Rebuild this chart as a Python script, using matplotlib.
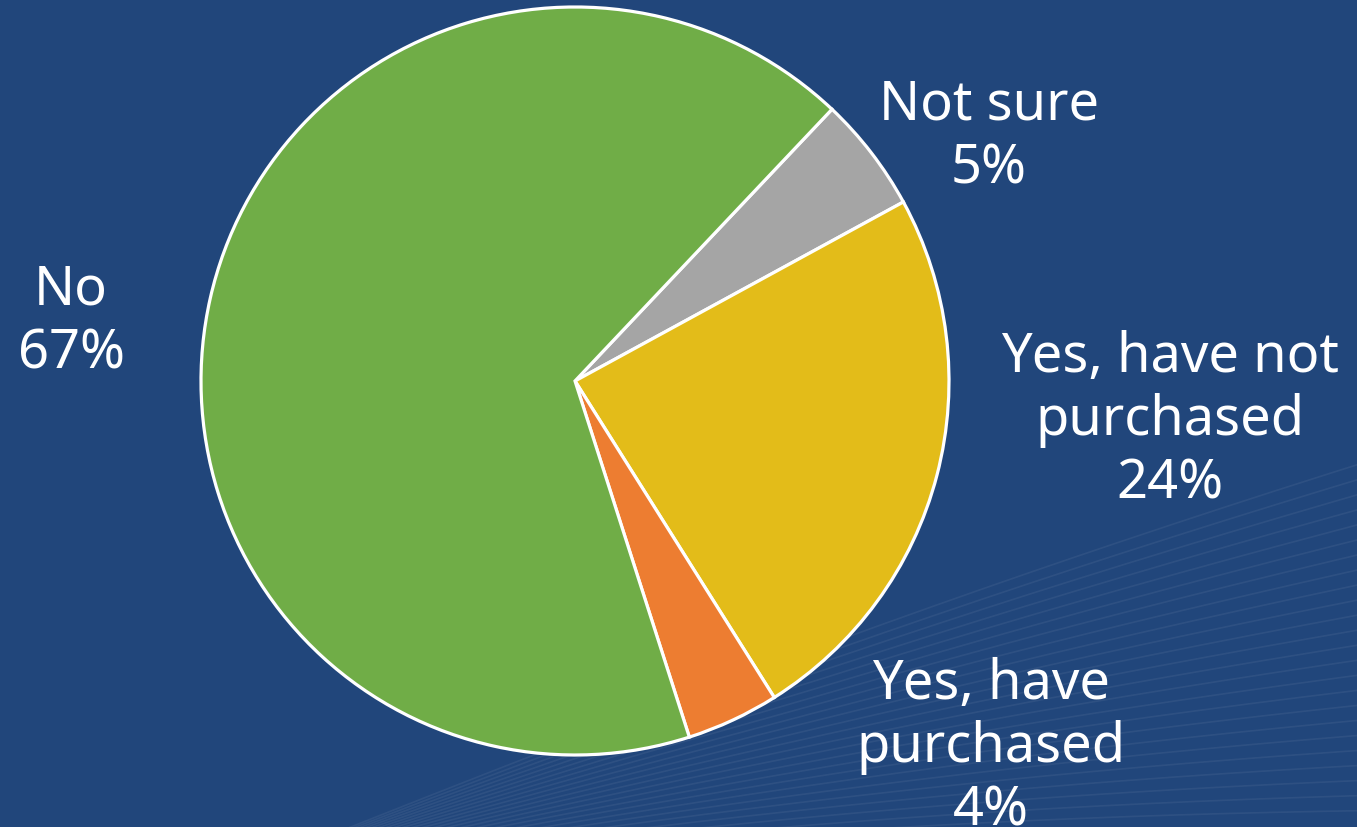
import matplotlib.pyplot as plt
import numpy as np

# Survey answers, clockwise from the top right
labels = ['Not sure', 'Yes, have not\npurchased', 'Yes, have\npurchased', 'No']
values = [5, 24, 4, 67]
colors = ['#A5A5A5', '#E3BC19', '#ED7D31', '#70AD47']

# where each label block sits (centre of text, in pixel units)
label_xy = [(989, 691), (1170, 407), (991, 80), (71, 506)]

bg = '#21467B'
W, H = 1357, 828

fig = plt.figure(figsize=(W / 100, H / 100), dpi=100, facecolor=bg)
ax = fig.add_axes([0, 0, 1, 1])
ax.set_facecolor(bg)
ax.set_xlim(0, W)
ax.set_ylim(0, H)
ax.set_aspect('equal')
ax.axis('off')

# faint swoosh lines fanning out from the bottom
xs = np.linspace(200, W + 20, 300)
for k in range(24):
    slope = 0.05 + 0.013 * k
    ys = -60 + (xs - 200) * slope + 25 * np.sin((xs - 200) / 500)
    ax.plot(xs, ys, color='white', alpha=0.06, lw=1.2, zorder=0)

wedges, _ = ax.pie(values, colors=colors, startangle=46.6, counterclock=False,
                   center=(575, H - 382), radius=374,
                   wedgeprops=dict(edgecolor='white', linewidth=2.3))
for w in wedges:
    w.set_zorder(2)

for lab, val, (x, y) in zip(labels, values, label_xy):
    ax.text(x, y, f'{lab}\n{val}%', ha='center', va='center', color='white',
            fontsize=39, family='Noto Sans', linespacing=1.2, zorder=3)

ax.set_xlim(0, W)
ax.set_ylim(0, H)

fig.savefig('out.png', dpi=100, facecolor=bg)
